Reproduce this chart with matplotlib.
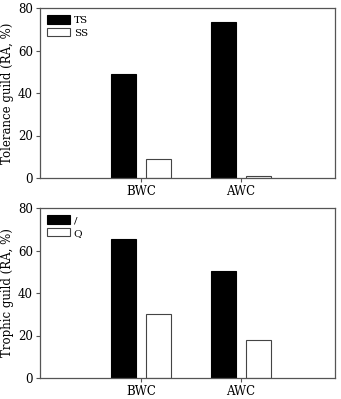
import matplotlib.pyplot as plt
import numpy as np

# ---- data ------------------------------------------------------------------
sites = ["BWC", "AWC"]

tol_labels = ["TS", "SS"]
tol_ts = [49.0, 73.5]
tol_ss = [9.0, 0.8]

tro_labels = ["/", "Q"]
tro_a = [65.5, 50.5]
tro_b = [30.0, 18.0]

plt.rcParams.update({
    "font.family": ["DejaVu Serif"],
    "font.size": 8.5,
    "axes.linewidth": 0.9,
    "axes.edgecolor": "#555555",
})

fig = plt.figure(figsize=(3.41, 3.99), dpi=100)
ax1 = fig.add_axes([40 / 341, 1 - 178 / 399, 295 / 341, 170 / 399])
ax2 = fig.add_axes([40 / 341, 1 - 378 / 399, 295 / 341, 170 / 399])

x = np.arange(len(sites))
w = 0.25
off = 0.175


def draw(ax, s1, s2, labels, ylabel):
    ax.bar(x - off, s1, w, color="black", edgecolor="black", linewidth=0.8, label=labels[0])
    ax.bar(x + off, s2, w, color="white", edgecolor="#444444", linewidth=0.8, label=labels[1])
    ax.set_xlim(-1.01, 1.94)
    ax.set_ylim(0, 80)
    ax.set_yticks([0, 20, 40, 60, 80])
    ax.set_xticks(x)
    ax.set_xticklabels(sites)
    ax.tick_params(direction="out", length=3, width=0.8, color="#555555", pad=2)
    ax.set_ylabel(ylabel, labelpad=3)
    ax.legend(loc="upper left", frameon=False, handlelength=2.2, handleheight=0.85,
              borderaxespad=0.3, labelspacing=0.3, handletextpad=0.35, fontsize=7.5)


draw(ax1, tol_ts, tol_ss, tol_labels, "Tolerance guild (RA, %)")
draw(ax2, tro_a, tro_b, tro_labels, "Trophic guild (RA, %)")

fig.savefig("out.png", dpi=100)
